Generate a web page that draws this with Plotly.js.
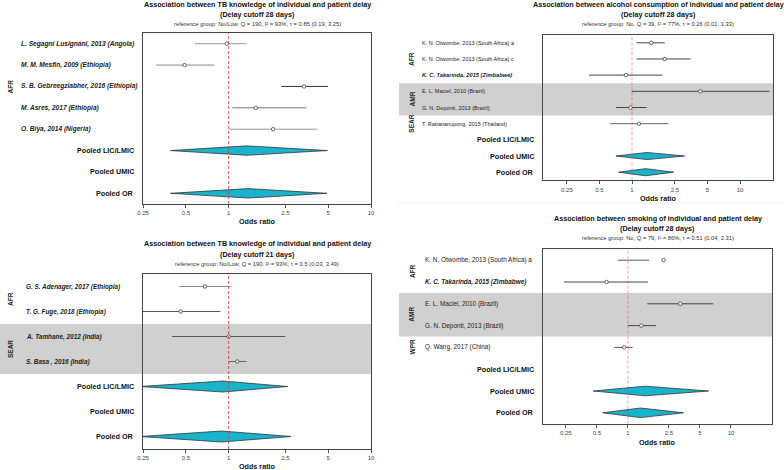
<!DOCTYPE html>
<html><head><meta charset="utf-8">
<script src="https://cdn.plot.ly/plotly-3.0.1.min.js"></script>
<style>html,body{margin:0;padding:0;background:#fff}</style>
</head><body><div id="chart" style="width:784px;height:470px"></div>
<script>
// ---------- DATA ----------
// Panel 1: TB knowledge, cutoff 28 days
const p1Studies = ["L. Segagni Lusignani, 2013 (Angola)","M. M. Mesfin, 2009 (Ethiopia)","S. B. Gebreegziabher, 2016 (Ethiopia)","M. Asres, 2017 (Ethiopia)","O. Biya, 2014 (Nigeria)"];
const p1Region = ["AFR","AFR","AFR","AFR","AFR"];
const p1Income = ["LIC","LIC","LIC","LIC","LIC"];
const p1Est = [0.97, 0.49, 3.39, 1.55, 2.05];
const p1Lo  = [0.58, 0.31, 2.34, 1.06, 1.01];
const p1Hi  = [1.34, 0.79, 4.99, 3.51, 4.20];
const p1Pooled = ["Pooled LIC/LMIC","Pooled UMIC","Pooled OR"];
const p1PEst = [1.34, null, 1.37];
const p1PLo  = [0.39, null, 0.39];
const p1PHi  = [4.94, null, 4.90];
const p1Title = "Association between TB knowledge of individual and patient delay";
const p1Cut = "(Delay cutoff 28 days)";
const p1Ref = "reference group: No/Low, Q = 190, I² = 93%, τ = 0.85 (0.19, 3.25)";

// Panel 2: TB knowledge, cutoff 21 days
const p2Studies = ["G. S. Adenager, 2017 (Ethiopia)","T. G. Fuge, 2018 (Ethiopia)","A. Tamhane, 2012 (India)","S. Basa , 2016 (India)"];
const p2Region = ["AFR","AFR","SEAR","SEAR"];
const p2Income = ["LIC","LIC","LIC","LIC"];
const p2Est = [0.68, 0.46, 1.00, 1.15];
const p2Lo  = [0.45, 0.20, 0.40, 1.00];
const p2Hi  = [1.04, 0.875, 2.50, 1.34];
const p2Pooled = ["Pooled LIC/LMIC","Pooled UMIC","Pooled OR"];
const p2PEst = [0.91, null, 0.89];
const p2PLo  = [0.24, null, 0.24];
const p2PHi  = [2.60, null, 2.74];
const p2Title = "Association between TB knowledge of individual and patient delay";
const p2Cut = "(Delay cutoff 21 days)";
const p2Ref = "reference group: No/Low, Q = 190, I² = 93%, τ = 0.5 (0.03, 3.49)";

// Panel 3: alcohol consumption
const p3Studies = ["K. N. Otwombe, 2013 (South Africa) a","K. N. Otwombe, 2013 (South Africa) c","K. C. Takarinda, 2015 (Zimbabwe)","E. L. Maciel, 2010 (Brazil)","G. N. Deponti, 2013 (Brazil)","T. Rattananupong, 2015 (Thailand)"];
const p3Region = ["AFR","AFR","AFR","AMR","AMR","SEAR"];
const p3Income = ["UMIC","UMIC","LIC","UMIC","UMIC","UMIC"];
const p3Est = [1.51, 2.01, 0.88, 4.29, 0.97, 1.16];
const p3Lo  = [1.10, 1.10, 0.40, 0.99, 0.71, 0.63];
const p3Hi  = [2.01, 3.49, 1.91, 18.7, 1.37, 2.17];
const p3Pooled = ["Pooled LIC/LMIC","Pooled UMIC","Pooled OR"];
const p3PEst = [null, 1.38, 1.33];
const p3PLo  = [null, 0.71, 0.75];
const p3PHi  = [null, 3.07, 2.43];
const p3Title = "Association between alcohol consumption of individual and patient delay";
const p3Cut = "(Delay cutoff 28 days)";
const p3Ref = "reference group: No, Q = 39, I² = 77%, τ = 0.26 (0.01, 1.33)";

// Panel 4: smoking
const p4Studies = ["K. N. Otwombe, 2013 (South Africa) a","K. C. Takarinda, 2015 (Zimbabwe)","E. L. Maciel, 2010 (Brazil)","G. N. Deponti, 2013 (Brazil)","Q. Wang, 2017 (China)"];
const p4Region = ["AFR","AFR","AMR","AMR","WPR"];
const p4Income = ["UMIC","LIC","UMIC","UMIC","UMIC"];
const p4Est = [2.22, 0.62, 3.22, 1.35, 0.92];
const p4Lo  = [0.80, 0.24, 1.54, 1.00, 0.74];
const p4Hi  = [1.61, 1.57, 6.73, 1.87, 1.11];
const p4Pooled = ["Pooled LIC/LMIC","Pooled UMIC","Pooled OR"];
const p4PEst = [null, 1.47, 1.32];
const p4PLo  = [null, 0.46, 0.57];
const p4PHi  = [null, 6.07, 3.47];
const p4Title = "Association between smoking of individual and patient delay";
const p4Cut = "(Delay cutoff 28 days)";
const p4Ref = "reference group: No, Q = 79, I² = 86%, τ = 0.51 (0.04, 2.31)";

const tickVals = [0.25, 0.5, 1, 2.5, 5, 10];
const tickText = ["0.25", "0.5", "1", "2.5", "5", "10"];

// ---------- STYLE / GEOMETRY ----------
const W = 784, H = 470;
const FONT = "Liberation Sans, Arial, sans-serif";
const panels = [
  {studies:p1Studies, region:p1Region, income:p1Income, est:p1Est, lo:p1Lo, hi:p1Hi,
   pooled:p1Pooled, pEst:p1PEst, pLo:p1PLo, pHi:p1PHi, title:p1Title, cut:p1Cut, ref:p1Ref,
   box:[143,371,33,204], xr:[0.25,10], titleY:[5,14.5,24], labelX:19, labelSize:6.6, plainSize:6.6,
   pooledRight:136, groupX:10, bandLeft:0, lineCols:["#999","#888","#333","#777","#999"],
   refCol:"#d04040", tickY:11.7, oddsY:17.7},
  {studies:p2Studies, region:p2Region, income:p2Income, est:p2Est, lo:p2Lo, hi:p2Hi,
   pooled:p2Pooled, pEst:p2PEst, pLo:p2PLo, pHi:p2PHi, title:p2Title, cut:p2Cut, ref:p2Ref,
   box:[143,371,274,449], xr:[0.25,10], titleY:[243.3,254,264], labelX:24, labelSize:6.4, plainSize:6.4,
   pooledRight:136, groupX:10, bandLeft:0, lineCols:["#888","#555","#555","#666"],
   refCol:"#d04040", tickY:11.3, oddsY:17.7},
  {studies:p3Studies, region:p3Region, income:p3Income, est:p3Est, lo:p3Lo, hi:p3Hi,
   pooled:p3Pooled, pEst:p3PEst, pLo:p3PLo, pHi:p3PHi, title:p3Title, cut:p3Cut, ref:p3Ref,
   box:[543,773,34.7,180.3], xr:[0.15,20.2], titleY:[5,14,24], labelX:420, labelSize:5.7, plainSize:5.5,
   pooledRight:536, groupX:412, bandLeft:399, lineCols:["#444","#444","#444","#444","#444","#666"],
   refCol:"rgba(208,70,70,0.55)", tickY:12.4, oddsY:18.4},
  {studies:p4Studies, region:p4Region, income:p4Income, est:p4Est, lo:p4Lo, hi:p4Hi,
   pooled:p4Pooled, pEst:p4PEst, pLo:p4PLo, pHi:p4PHi, title:p4Title, cut:p4Cut, ref:p4Ref,
   box:[543,772,249.3,423.7], xr:[0.15,25], titleY:[218.7,228.3,238], labelX:423, labelSize:6.4, plainSize:6.4,
   pooledRight:536, groupX:412, bandLeft:399, lineCols:["#555","#444","#444","#444","#555"],
   refCol:"rgba(208,70,70,0.55)", tickY:13, oddsY:18.6}
];

const px = v => v / W;
const py = v => 1 - v / H;

const data = [], shapes = [], annotations = [];
const layout = {
  width: W, height: H, margin: {l:0, r:0, t:0, b:0},
  paper_bgcolor: "#fff", plot_bgcolor: "rgba(0,0,0,0)",
  showlegend: false, font: {family: FONT, color: "#222"}
};

panels.forEach((p, i) => {
  const n = i + 1;
  const xa = n === 1 ? "x" : "x" + n, ya = n === 1 ? "y" : "y" + n;
  const xKey = n === 1 ? "xaxis" : "xaxis" + n, yKey = n === 1 ? "yaxis" : "yaxis" + n;
  const [bl, br, bt, bb] = p.box;
  const nRows = p.studies.length + p.pooled.length;

  layout[xKey] = {
    type: "log", domain: [px(bl), px(br)], anchor: ya,
    range: [Math.log10(p.xr[0]), Math.log10(p.xr[1])],
    tickvals: tickVals, ticktext: tickText, ticks: "outside", ticklen: 3, tickcolor: "#555",
    tickfont: {size: 6, color: "#444", family: FONT},
    showline: true, linecolor: "#444", linewidth: 1, mirror: true,
    showgrid: false, zeroline: false, fixedrange: true
  };
  layout[yKey] = {
    domain: [py(bb), py(bt)], anchor: xa, range: [nRows + 0.5, 0.5],
    showticklabels: false, ticks: "", showgrid: false, zeroline: false,
    showline: true, linecolor: "#444", linewidth: 1, mirror: true, fixedrange: true
  };

  // Region bands (grey for alternating region groups)
  const regions = [];
  p.region.forEach((r, k) => {
    if (!regions.length || regions[regions.length-1].name !== r) regions.push({name:r, start:k+1, end:k+1});
    else regions[regions.length-1].end = k+1;
  });
  regions.forEach((g, gi) => {
    if (gi % 2 === 1) {
      shapes.push({type:"rect", xref:"paper", yref:ya, x0:px(p.bandLeft), x1:px(br),
        y0:g.start-0.5, y1:g.end+0.5, fillcolor:"#d0d0d0", line:{width:0}, layer:"below"});
    }
    annotations.push({xref:"paper", yref:ya, x:px(p.groupX), y:(g.start+g.end)/2, text:"<b>"+g.name+"</b>",
      textangle:-90, showarrow:false, xanchor:"center", yanchor:"middle",
      font:{size:6.5, color:"#222", family:FONT}});
  });

  // Reference line at OR = 1
  shapes.push({type:"line", xref:xa, yref:ya+" domain", x0:1, x1:1, y0:0, y1:1,
    line:{color:p.refCol, width:0.9, dash:"3px,2px"}, layer:"above"});

  // Study CIs and points
  p.studies.forEach((s, k) => {
    const row = k + 1;
    data.push({type:"scatter", mode:"lines", xaxis:xa, yaxis:ya,
      x:[p.lo[k], p.hi[k]], y:[row, row], line:{color:p.lineCols[k], width:1}, hoverinfo:"skip"});
    const lic = p.income[k] === "LIC";
    annotations.push({xref:"paper", yref:ya, x:px(p.labelX), y:row,
      text: lic ? "<b><i>"+s+"</i></b>" : s, showarrow:false, xanchor:"left", yanchor:"middle",
      font:{size: lic ? p.labelSize : p.plainSize, color:"#222", family:FONT}});
  });
  data.push({type:"scatter", mode:"markers", xaxis:xa, yaxis:ya,
    x:p.est, y:p.est.map((_, k) => k + 1),
    marker:{symbol:"circle", size:3.5, color:"#fff", line:{color:"#444", width:0.8}}, hoverinfo:"skip"});

  // Pooled diamonds
  p.pooled.forEach((name, k) => {
    const row = p.studies.length + k + 1;
    annotations.push({xref:"paper", yref:ya, x:px(p.pooledRight), y:row, text:"<b>"+name+"</b>",
      showarrow:false, xanchor:"right", yanchor:"middle", font:{size:7.2, color:"#111", family:FONT}});
    if (p.pEst[k] === null) return;
    const h = 0.22;
    data.push({type:"scatter", mode:"lines", xaxis:xa, yaxis:ya, fill:"toself",
      x:[p.pLo[k], p.pEst[k], p.pHi[k], p.pEst[k], p.pLo[k]],
      y:[row, row - h, row, row + h, row],
      fillcolor:"#19b3cb", line:{color:"#333", width:0.8}, hoverinfo:"skip"});
  });

  // Titles
  const cx = px((bl + br) / 2);
  annotations.push({xref:"paper", yref:"paper", x:cx, y:py(p.titleY[0]), text:"<b>"+p.title+"</b>",
    showarrow:false, xanchor:"center", yanchor:"middle", font:{size:7.2, color:"#111", family:FONT}});
  annotations.push({xref:"paper", yref:"paper", x:cx, y:py(p.titleY[1]), text:"<b>"+p.cut+"</b>",
    showarrow:false, xanchor:"center", yanchor:"middle", font:{size:7.2, color:"#111", family:FONT}});
  annotations.push({xref:"paper", yref:"paper", x:cx, y:py(p.titleY[2]), text:p.ref,
    showarrow:false, xanchor:"center", yanchor:"middle", font:{size:5.8, color:"#333", family:FONT}});
  annotations.push({xref:"paper", yref:"paper", x:cx, y:py(bb + p.oddsY), text:"<b>Odds ratio</b>",
    showarrow:false, xanchor:"center", yanchor:"middle", font:{size:7.2, color:"#111", family:FONT}});
});

// faint divider between right panels
shapes.push({type:"line", xref:"paper", yref:"paper", x0:px(395), x1:1, y0:py(203), y1:py(203),
  line:{color:"#eeeeee", width:1}});

layout.shapes = shapes;
layout.annotations = annotations;

Plotly.newPlot("chart", data, layout, {displayModeBar:false, staticPlot:true});
</script>
</body></html>
